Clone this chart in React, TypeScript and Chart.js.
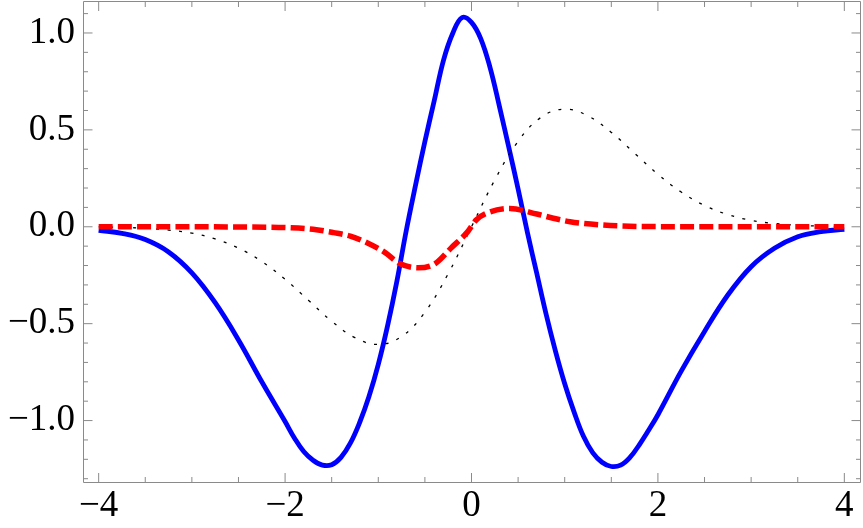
import React, { useEffect, useRef } from "react";
import { Chart, registerables } from "chart.js";

Chart.register(...registerables);

// Blue solid curve
const blueX = [-4.0, -3.75, -3.5, -3.25, -3.0, -2.75, -2.5, -2.25, -2.0, -1.9, -1.8, -1.7, -1.6, -1.5, -1.4, -1.3, -1.2, -1.1, -1.0, -0.9, -0.8, -0.7, -0.6, -0.5, -0.4, -0.3, -0.2, -0.1, 0.0, 0.1, 0.2, 0.3, 0.4, 0.5, 0.6, 0.7, 0.8, 0.9, 1.0, 1.1, 1.2, 1.3, 1.4, 1.5, 1.6, 1.7, 1.8, 1.9, 2.0, 2.25, 2.5, 2.75, 3.0, 3.25, 3.5, 3.75, 4.0];
const blueY = [-0.018, -0.034, -0.066, -0.13, -0.238, -0.392, -0.584, -0.8, -1.005, -1.09, -1.16, -1.205, -1.23, -1.228, -1.19, -1.117, -1.01, -0.876, -0.71, -0.51, -0.28, -0.02, 0.215, 0.44, 0.65, 0.86, 1.0, 1.08, 1.055, 0.97, 0.82, 0.62, 0.41, 0.195, -0.03, -0.24, -0.45, -0.64, -0.81, -0.955, -1.08, -1.165, -1.215, -1.237, -1.23, -1.19, -1.125, -1.05, -0.97, -0.745, -0.54, -0.352, -0.206, -0.111, -0.051, -0.025, -0.013];

// Red dashed curve
const redX = [-4.0, -3.0, -2.5, -2.0, -1.7, -1.48, -1.3, -1.11, -0.93, -0.77, -0.57, -0.39, -0.22, -0.04, 0.05, 0.163, 0.413, 0.7, 0.878, 1.057, 1.414, 1.915, 3.0, 4.0];
const redY = [0.0, 0.0, -0.001, -0.004, -0.013, -0.03, -0.048, -0.085, -0.132, -0.19, -0.212, -0.19, -0.11, -0.025, 0.035, 0.07, 0.094, 0.066, 0.044, 0.026, 0.009, 0.001, 0.0, 0.0];

// Black dotted curve
const blackX = [-4.0, -3.75, -3.5, -3.25, -3.0, -2.75, -2.5, -2.25, -2.0, -1.75, -1.5, -1.25, -1.0, -0.75, -0.5, -0.25, 0.0, 0.25, 0.5, 0.75, 1.0, 1.25, 1.5, 1.75, 2.0, 2.25, 2.5, 2.75, 3.0, 3.25, 3.5, 3.75, 4.0];
const blackY = [-0.001, -0.003, -0.008, -0.017, -0.033, -0.063, -0.11, -0.179, -0.271, -0.379, -0.487, -0.572, -0.607, -0.566, -0.441, -0.242, 0.0, 0.242, 0.441, 0.566, 0.607, 0.572, 0.487, 0.379, 0.271, 0.179, 0.11, 0.063, 0.033, 0.017, 0.008, 0.003, 0.001];

// Ticks
const xTicks = [-4, -2, 0, 2, 4];
const xMinorTicks = [-3.5, -3, -2.5, -1.5, -1, -0.5, 0.5, 1, 1.5, 2.5, 3, 3.5];
const yTicks = [-1.0, -0.5, 0.0, 0.5, 1.0];
const yMinorTicks = [-1.3, -1.2, -1.1, -0.9, -0.8, -0.7, -0.6, -0.4, -0.3, -0.2, -0.1, 0.1, 0.2, 0.3, 0.4, 0.6, 0.7, 0.8, 0.9, 1.1];

const toPoints = (xs: number[], ys: number[]) => xs.map((x, i) => ({ x, y: ys[i] }));
const minus = (s: string) => s.replace("-", "\u2212");

const FRAME = "#8a8a8a";
const FAMILY = '"Liberation Serif", "Times New Roman", Times, serif';

const framePlugin = {
  id: "frame",
  beforeDatasetsDraw(chart: any) {
    const { ctx, chartArea } = chart;
    const { left, right, top, bottom } = chartArea;
    const xs = chart.scales.x;
    const ys = chart.scales.y;
    const L = left + 0.5, R = right + 0.5, T = top + 0.5, B = bottom + 0.5;
    ctx.save();
    ctx.strokeStyle = FRAME;
    ctx.lineWidth = 1;
    ctx.beginPath();
    ctx.moveTo(L, T); ctx.lineTo(R, T); ctx.lineTo(R, B); ctx.lineTo(L, B); ctx.closePath();
    ctx.stroke();
    const xt = (v: number, len: number) => {
      const p = xs.getPixelForValue(v);
      ctx.beginPath();
      ctx.moveTo(p, B); ctx.lineTo(p, B - len);
      ctx.moveTo(p, T); ctx.lineTo(p, T + len);
      ctx.stroke();
    };
    const yt = (v: number, len: number) => {
      const p = ys.getPixelForValue(v);
      ctx.beginPath();
      ctx.moveTo(L, p); ctx.lineTo(L + len, p);
      ctx.moveTo(R, p); ctx.lineTo(R - len, p);
      ctx.stroke();
    };
    xTicks.forEach((v) => xt(v, 9.5));
    xMinorTicks.forEach((v) => xt(v, 5.5));
    yTicks.forEach((v) => yt(v, 9));
    yMinorTicks.forEach((v) => yt(v, 4.5));
    ctx.restore();
  },
};

export default function App() {
  const ref = useRef<HTMLCanvasElement | null>(null);
  useEffect(() => {
    if (!ref.current) return;
    let chart: any = null;
    let cancelled = false;
    const font = { family: FAMILY, size: 37 };
    const build = () => {
      if (cancelled || !ref.current) return;
      chart = new Chart(ref.current, {
        type: "line",
        data: {
          datasets: [
            {
              data: toPoints(redX, redY),
              borderColor: "#ff0000",
              borderWidth: 5.5,
              borderDash: [14, 5.2],
              borderCapStyle: "butt",
              cubicInterpolationMode: "monotone",
              pointRadius: 0,
              fill: false,
              order: 1,
            },
            {
              data: toPoints(blackX, blackY),
              borderColor: "#000000",
              borderWidth: 1.3,
              borderDash: [3, 8.5],
              tension: 0.4,
              pointRadius: 0,
              fill: false,
              order: 2,
            },
            {
              data: toPoints(blueX, blueY),
              borderColor: "#0000ff",
              borderWidth: 4.8,
              tension: 0.4,
              pointRadius: 0,
              fill: false,
              order: 3,
            },
          ],
        },
        options: {
          responsive: false,
          animation: false,
          devicePixelRatio: 1,
          layout: { padding: { left: 0, right: 3, top: 1, bottom: 0 } },
          plugins: { legend: { display: false }, tooltip: { enabled: false } },
          scales: {
            x: {
              type: "linear",
              min: -4.168,
              max: 4.168,
              border: { display: false },
              grid: { display: false, drawTicks: false },
              afterBuildTicks: (s: any) => {
                s.ticks = xTicks.map((v) => ({ value: v }));
              },
              afterFit: (s: any) => {
                s.height = 46;
                s.paddingLeft = 0;
                s.paddingRight = 0;
                s.paddingTop = 0;
                s.paddingBottom = 0;
              },
              ticks: {
                autoSkip: false,
                maxRotation: 0,
                minRotation: 0,
                padding: 2,
                color: "#000",
                font,
                callback: (v: any) => minus(String(v)),
              },
            },
            y: {
              type: "linear",
              min: -1.317,
              max: 1.165,
              border: { display: false },
              grid: { display: false, drawTicks: false },
              afterBuildTicks: (s: any) => {
                s.ticks = yTicks.map((v) => ({ value: v }));
              },
              afterFit: (s: any) => {
                s.width = 83;
                s.paddingLeft = 0;
                s.paddingRight = 0;
                s.paddingTop = 0;
                s.paddingBottom = 0;
              },
              ticks: {
                autoSkip: false,
                padding: 8,
                color: "#000",
                font,
                callback: (v: any) => minus(Number(v).toFixed(1)),
              },
            },
          },
        },
        plugins: [framePlugin],
      } as any);
    };
    const fontsApi: any = (document as any).fonts;
    if (fontsApi && fontsApi.load) {
      fontsApi.load('37px "Liberation Serif"').then(build, build);
    } else {
      build();
    }
    return () => {
      cancelled = true;
      if (chart) chart.destroy();
    };
  }, []);
  return (
    <canvas
      ref={ref}
      width={863}
      height={528}
      style={{ position: "fixed", left: 0, top: 0, display: "block" }}
    />
  );
}
